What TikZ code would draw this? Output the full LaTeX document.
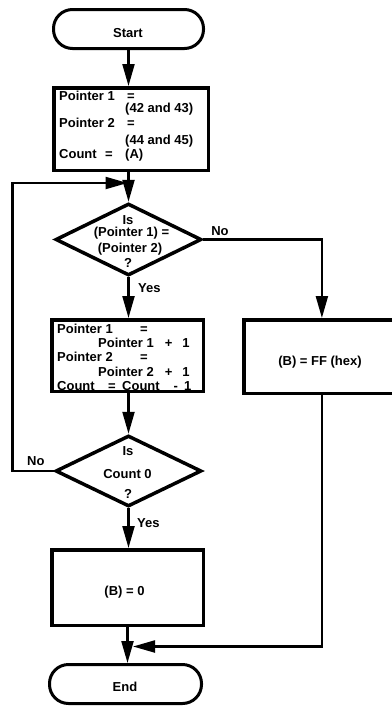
\documentclass[tikz,border=0pt]{standalone}
\usepackage{fontspec}
\setmainfont{Liberation Sans}
\usetikzlibrary{arrows.meta,shapes.geometric}
\begin{document}
\begin{tikzpicture}[x=1pt,y=-1pt,
  conn/.style={line width=2.2pt,-{Triangle[length=22pt,width=12pt]}},
  boxst/.style={draw,rectangle,line width=3.5pt,inner sep=0pt},
  dia/.style={draw,diamond,line width=3.5pt,inner sep=0pt,miter limit=10},
  term/.style={draw,rectangle,rounded corners=19pt,line width=3pt,inner sep=0pt},
  txt/.style={font=\fontsize{13}{14}\selectfont\bfseries,inner sep=0pt,anchor=base west},
  ctxt/.style={font=\fontsize{13}{14}\selectfont\bfseries,inner sep=0pt,anchor=base},
]
\useasboundingbox (0,0) rectangle (391,707);

% shapes
\node[term,minimum width=150pt,minimum height=39pt] (start) at (128.5,29) {};
\node[boxst,minimum width=154.5pt,minimum height=82.5pt] (box1) at (131,129) {};
\node[dia,minimum width=146pt,minimum height=72pt] (d1) at (128.5,239.5) {};
\node[boxst,minimum width=151.5pt,minimum height=71.5pt] (box2) at (127.5,355.5) {};
\node[boxst,minimum width=156.25pt,minimum height=73.5pt] (ff) at (321.9,356.5) {};
\node[dia,minimum width=146pt,minimum height=71pt] (d2) at (128.5,471) {};
\node[boxst,minimum width=151.5pt,minimum height=75.5pt] (box3) at (127.5,587.5) {};
\node[term,minimum width=152pt,minimum height=39pt] (end) at (125.5,684) {};

% texts
\node[ctxt] (tstart) at (128,37) {Start};
\node[txt] (b1a) at (59,100) {Pointer 1};
\node[txt] (b1b) at (127,100) {=};
\node[txt] (b1c) at (125,112) {(42 and 43)};
\node[txt] (b1d) at (59,127) {Pointer 2};
\node[txt] (b1e) at (127,127) {=};
\node[txt] (b1f) at (125,144) {(44 and 45)};
\node[txt] (b1g) at (59,158) {Count};
\node[txt] (b1h) at (105,158) {=};
\node[txt] (b1i) at (125,158) {(A)};

\node[ctxt] (d1a) at (128,224) {Is};
\node[ctxt] (d1b) at (131.5,236) {(Pointer 1) =};
\node[ctxt] (d1c) at (130,252) {(Pointer 2)};
\node[ctxt] (d1d) at (128,267) {?};

\node[txt] (b2a) at (57,333) {Pointer 1};
\node[txt] (b2b) at (140,333) {=};
\node[txt] (b2c) at (98,347) {Pointer 1\hspace{11pt}+\hspace{10pt}1};
\node[txt] (b2d) at (57,361) {Pointer 2};
\node[txt] (b2e) at (140,361) {=};
\node[txt] (b2f) at (98,376) {Pointer 2\hspace{11pt}+\hspace{10pt}1};
\node[txt] (b2g) at (57,390) {Count};
\node[txt] (b2h) at (108,390) {=};
\node[txt] (b2i) at (122,390) {Count\hspace{14pt}-\hspace{6pt}1};

\node[ctxt] (tff) at (320,365) {(B) = FF (hex)};

\node[ctxt] (d2a) at (128,455) {Is};
\node[ctxt] (d2b) at (127.5,478) {Count 0};
\node[ctxt] (d2c) at (128,498) {?};

\node[ctxt] (tb3) at (124.5,595) {(B) = 0};
\node[ctxt] (tend) at (125,691) {End};

% labels
\node[ctxt] (no1) at (220,235) {No};
\node[txt] (yes1) at (138,292) {Yes};
\node[txt] (no2) at (27,465) {No};
\node[txt] (yes2) at (137,527) {Yes};

% connectors
\coordinate (lx) at (12.5,0);
\coordinate (m1) at (127.5,183);
\coordinate (m2) at (133,646.5);

\draw[conn] (start.south) -- (start.south |- box1.north);
\draw[conn] (box1.south -| d1.north) -- (d1.north);
\draw[conn] (d1.east) -| (ff.north);
\draw[conn] (d1.south) -- (d1.south |- box2.north);
\draw[conn] (box2.south -| d2.north) -- (d2.north);
\draw[conn] (d2.west) -- (d2.west -| lx) |- (m1);
\draw[conn] (d2.south) -- (d2.south |- box3.north);
\draw[conn] (box3.south) -- (box3.south |- end.north);
\draw[conn] (ff.south) |- (m2);
\end{tikzpicture}
\end{document}
